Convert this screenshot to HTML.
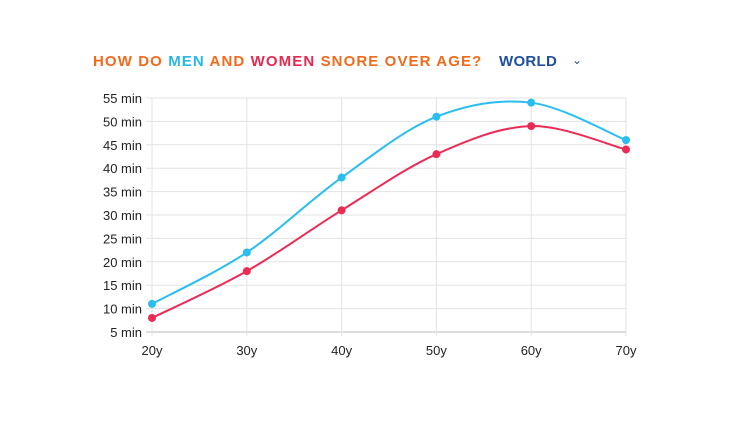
<!DOCTYPE html>
<html><head><meta charset="utf-8"><style>
body{margin:0;background:#fff;width:748px;height:426px;overflow:hidden;font-family:"Liberation Sans",sans-serif}
#title{position:absolute;left:93px;top:53px;font-size:15px;font-weight:bold;letter-spacing:1.1px;color:#f26a1b;white-space:nowrap}
.men{color:#29b6e8}.women{color:#e8294f}
#world{position:absolute;left:499px;top:53px;font-size:15px;font-weight:bold;color:#1f4fa0;letter-spacing:0.3px}
#chev{position:absolute;left:572px;top:53px;font-size:12px;color:#1f4fa0}
</style></head><body>
<div id="title">HOW DO <span class="men">MEN</span> AND <span class="women">WOMEN</span> SNORE OVER AGE?</div>
<div id="world">WORLD</div>
<div id="chev">⌄</div>
<svg id="chart" width="748" height="426" style="position:absolute;left:0;top:0"></svg>
<script>
const categories=["20y","30y","40y","50y","60y","70y"];
const yTicks=[5,10,15,20,25,30,35,40,45,50,55];
const menValues=[11,22,38,51,54,46];
const womenValues=[8,18,31,43,49,44];
const svg=document.getElementById('chart');
const NS='http://www.w3.org/2000/svg';
const x0=152,x1=626,yTop=98,yBot=332;
function xs(i){return x0+(x1-x0)*i/(categories.length-1);}
function ys(v){return yBot-(v-5)/(55-5)*(yBot-yTop);}
function mk(t,a,p){const e=document.createElementNS(NS,t);for(const k in a)e.setAttribute(k,a[k]);(p||svg).appendChild(e);return e;}
yTicks.forEach(v=>{
 const l=mk('line',{x1:146,x2:x1,y1:ys(v),y2:ys(v),stroke:v===5?'#bbb':'#e3e3e3','stroke-width':1});
 
 
 const t=mk('text',{x:142,y:ys(v)+5,'text-anchor':'end','font-size':13,fill:'#222','font-family':'Liberation Sans, sans-serif'});
 t.textContent=v+' min';
 
 
});
categories.forEach((c,i)=>{
 const l=mk('line',{x1:xs(i),x2:xs(i),y1:yTop,y2:yBot+4,stroke:'#e3e3e3','stroke-width':1});
 
 
 const t=mk('text',{x:xs(i),y:yBot+23,'text-anchor':'middle','font-size':13,fill:'#222','font-family':'Liberation Sans, sans-serif'});
 t.textContent=c;
 
 
});
function path(vals){
 const p=vals.map((v,i)=>[xs(i),ys(v)]);
 let d='M'+p[0][0]+','+p[0][1];
 for(let i=0;i<p.length-1;i++){
  const a=p[i-1]||p[i],b=p[i],c=p[i+1],e=p[i+2]||c;
  d+=' C'+(b[0]+(c[0]-a[0])/6)+','+(b[1]+(c[1]-a[1])/6)+' '+(c[0]-(e[0]-b[0])/6)+','+(c[1]-(e[1]-b[1])/6)+' '+c[0]+','+c[1];
 }
 return d;
}
[[menValues,'#29bdf0','men'],[womenValues,'#ec2b55','women']].forEach(([vals,col,n])=>{
 const pa=mk('path',{d:path(vals),fill:'none',stroke:col,'stroke-width':2});
 
 
 vals.forEach((v,i)=>{
  const c=mk('circle',{cx:xs(i),cy:ys(v),r:4,fill:col});
  
  
 });
});
</script>
</body></html>
